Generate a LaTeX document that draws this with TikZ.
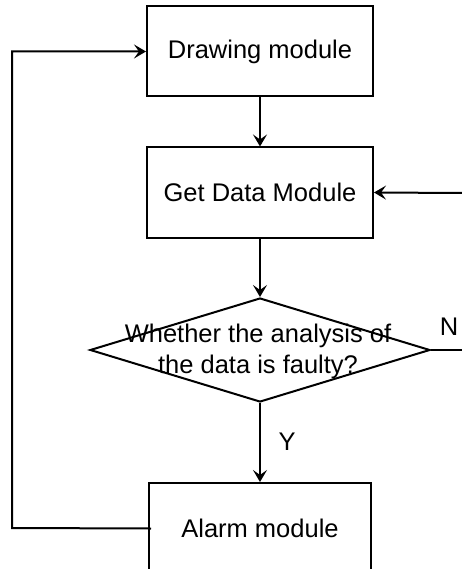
\documentclass[tikz,border=0pt]{standalone}
\usepackage{fontspec}
\setmainfont{Liberation Sans}
\usetikzlibrary{shapes,arrows.meta,positioning}

\begin{document}
\begin{tikzpicture}[x=1pt, y=-1pt, line width=2pt,
  >={Stealth[length=12pt,width=14pt,inset=5pt]}]
\tikzstyle{every node}=[font=\fontsize{25.5}{31}\selectfont]
\tikzstyle{module}=[rectangle, draw, inner sep=0pt,
                    minimum width=226pt, minimum height=90pt]
\useasboundingbox (0,0) rectangle (462,569);
\node[module] (drawing) at (260,51.5) {Drawing module};
\node[module] (getdata) at (260,192.5) {Get Data Module};
\node[diamond, draw, inner sep=0pt, minimum width=340pt,
      minimum height=104pt] (decide) at (260,350) {};
\node[align=center] (question) at (258,351) {Whether the analysis of\\the data is faulty?};
\node[module, minimum width=222pt, minimum height=91pt] (alarm) at (260,528.5) {Alarm module};
\node (no) at (449,327) {N};
\node (yes) at (287,442) {Y};
\coordinate (rin) at (462,193);
\coordinate (nout) at (462,350);
\coordinate (lbot) at (12,528);
\coordinate (ltop) at (12,51.5);
\draw[->] (drawing) -- (getdata);
\draw[->] (getdata) -- (decide.north);
\draw[->] (decide.south) -- (alarm);
\draw (decide.east) -- (nout);
\draw[->] (rin) -- (getdata.east);
\draw[->] ([xshift=3pt]alarm.west) -- (lbot) -- (ltop) -- (drawing.west);
\end{tikzpicture}
\end{document}
